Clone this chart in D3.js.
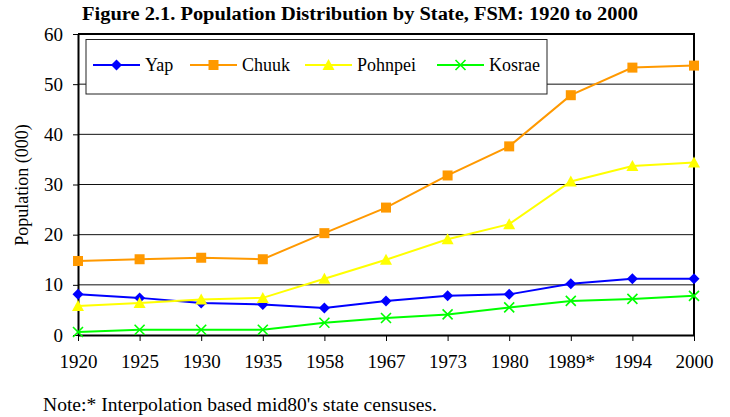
<!DOCTYPE html>
<html><head><meta charset="utf-8">
<script src="https://cdn.jsdelivr.net/npm/d3@7"></script>
<style>body{margin:0;background:#fff}svg{display:block}</style>
</head><body>
<svg id="c" width="730" height="417"></svg>
<script>
const years = ["1920","1925","1930","1935","1958","1967","1973","1980","1989*","1994","2000"];
const yap     = [8.1, 7.4, 6.4, 6.1, 5.4, 6.8, 7.8, 8.1, 10.2, 11.2, 11.2];
const chuuk   = [14.75, 15.1, 15.4, 15.1, 20.3, 25.4, 31.8, 37.6, 47.8, 53.3, 53.7];
const pohnpei = [5.8, 6.4, 7.1, 7.4, 11.2, 15.0, 19.1, 22.1, 30.6, 33.7, 34.4];
const kosrae  = [0.6, 1.05, 1.05, 1.05, 2.45, 3.4, 4.1, 5.5, 6.8, 7.2, 7.8];
const yTicks = [0, 10, 20, 30, 40, 50, 60];
const seriesNames = ["Yap", "Chuuk", "Pohnpei", "Kosrae"];
const seriesColors = ["#0000FF", "#FF9900", "#FFFF00", "#00FF00"];
const seriesShapes = ["diamond", "square", "triangle", "x"];
const titleText = "Figure 2.1. Population Distribution by State, FSM: 1920 to 2000";
const yTitle = "Population (000)";
const noteText = "Note:* Interpolation based mid80's state censuses.";

const seriesVals = [yap, chuuk, pohnpei, kosrae];
const FF = '"Liberation Serif", "Times New Roman", serif';
const svg = d3.select("#c");
const L = 78, R = 694, T = 34, B = 335;
const x = d3.scalePoint().domain(years).range([L, R]).padding(0);
const y = d3.scaleLinear().domain([0, 60]).range([B, T]);

svg.append("text").attr("x", 82).attr("y", 20)
  .attr("textLength", 556).attr("lengthAdjust", "spacingAndGlyphs")
  .style("font-family", FF).style("font-weight", "bold").style("font-size", "18px")
  .text(titleText);

// gridlines
svg.append("g").selectAll("line").data(yTicks.filter(d => d > 0 && d < 60)).join("line")
  .attr("x1", L).attr("x2", R).attr("y1", d => y(d)).attr("y2", d => y(d))
  .attr("stroke", "#111").attr("stroke-width", 1);

// frame top & right
svg.append("line").attr("x1", L).attr("x2", R + 1).attr("y1", y(60)).attr("y2", y(60)).attr("stroke", "#000").attr("stroke-width", 2);
svg.append("line").attr("x1", R).attr("x2", R).attr("y1", y(60)).attr("y2", B).attr("stroke", "#000").attr("stroke-width", 2);

// y axis
const ya = svg.append("g").attr("transform", `translate(${L},0)`)
  .call(d3.axisLeft(y).tickValues(yTicks).tickSize(5).tickPadding(10).tickSizeOuter(0));
ya.select(".domain").attr("stroke-width", 2);
ya.selectAll("text").style("font-family", FF).style("font-size", "19px").attr("fill", "#000");

// x axis
const xa = svg.append("g").attr("transform", `translate(0,${B})`)
  .call(d3.axisBottom(x).tickSize(6).tickPadding(14).tickSizeOuter(0));
xa.select(".domain").attr("stroke-width", 2);
xa.selectAll("text").style("font-family", FF).style("font-size", "19px").attr("fill", "#000");

svg.append("text").attr("transform", "translate(28,185) rotate(-90)").attr("text-anchor", "middle")
  .style("font-family", FF).style("font-size", "18px").text(yTitle);

function marker(g, shape, color, cx, cy) {
  if (shape === "diamond") {
    g.append("path").attr("d", `M${cx},${cy-5.5}L${cx+5.5},${cy}L${cx},${cy+5.5}L${cx-5.5},${cy}Z`).attr("fill", color);
  } else if (shape === "square") {
    g.append("rect").attr("x", cx-5).attr("y", cy-5).attr("width", 10).attr("height", 10).attr("fill", color);
  } else if (shape === "triangle") {
    g.append("path").attr("d", `M${cx},${cy-6}L${cx+6},${cy+5}L${cx-6},${cy+5}Z`).attr("fill", color);
  } else {
    g.append("path").attr("d", `M${cx-5},${cy-5}L${cx+5},${cy+5}M${cx+5},${cy-5}L${cx-5},${cy+5}`).attr("stroke", color).attr("stroke-width", 1.6).attr("fill", "none");
  }
}

// legend
svg.append("rect").attr("x", 86).attr("y", 39.5).attr("width", 461).attr("height", 54.5)
  .attr("fill", "#fff").attr("stroke", "#222").attr("stroke-width", 1);
const legX = [93, 190, 305, 437];
seriesNames.forEach((n, i) => {
  const g = svg.append("g");
  const ly = 65;
  g.append("line").attr("x1", legX[i]).attr("x2", legX[i] + 47).attr("y1", ly).attr("y2", ly)
    .attr("stroke", seriesColors[i]).attr("stroke-width", 2);
  marker(g, seriesShapes[i], seriesColors[i], legX[i] + 23.5, ly);
  g.append("text").attr("x", legX[i] + 52).attr("y", ly + 6).style("font-family", FF).style("font-size", "18px").text(n);
});

// series
const line = d3.line().x((d, i) => x(years[i])).y(d => y(d));
seriesVals.forEach((vals, i) => {
  const g = svg.append("g");
  g.append("path").attr("d", line(vals)).attr("fill", "none").attr("stroke", seriesColors[i]).attr("stroke-width", 2);
  vals.forEach((v, j) => marker(g, seriesShapes[i], seriesColors[i], x(years[j]), y(v)));
});

svg.append("text").attr("x", 43).attr("y", 411)
  .attr("textLength", 394).attr("lengthAdjust", "spacingAndGlyphs")
  .style("font-family", FF).style("font-size", "18px").text(noteText);
</script>
</body></html>
